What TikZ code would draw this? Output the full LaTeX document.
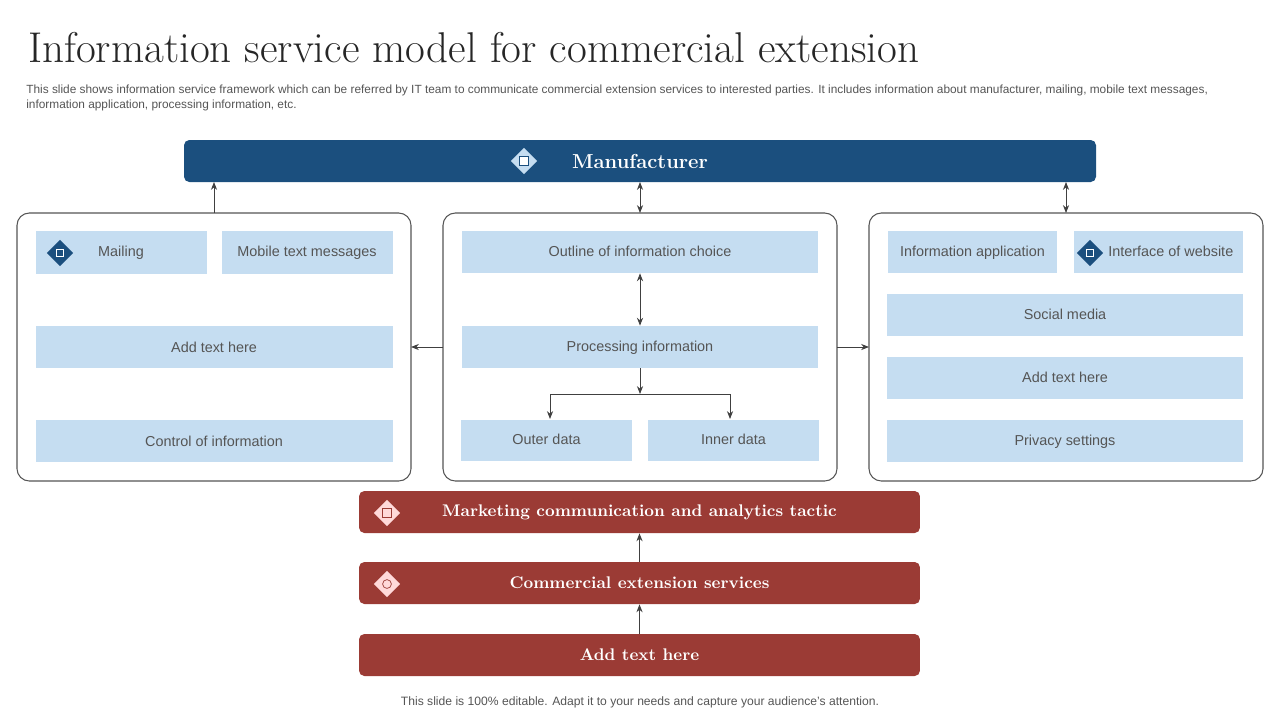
\documentclass[tikz,border=0pt]{standalone}
\usepackage{fontspec}
\setmainfont{Latin Modern Roman}
\newfontfamily\sans{Liberation Sans}
\usetikzlibrary{shapes.geometric,arrows.meta}
\definecolor{dblue}{HTML}{1B4F7E}
\definecolor{lblue}{HTML}{C5DDF1}
\definecolor{dred}{HTML}{9B3B35}
\definecolor{tgray}{HTML}{555555}
\definecolor{bgray}{HTML}{555555}
\begin{document}
\begin{tikzpicture}[x=0.02cm,y=-0.02cm,
 lbf/.style={font=\sans\fontsize{8.2}{10}\selectfont,text=tgray},
 lb/.style={fill=lblue,draw=none,lbf,text depth=0.2ex},
 bar/.style={rounded corners=3pt,draw=none,text=white,font=\bfseries\fontsize{9.6}{12}\selectfont},
 panel/.style={draw=bgray,rounded corners=7pt,line width=0.6pt},
 ar/.style={-{Stealth[length=4.5pt,width=3.5pt]},draw=black!75,line width=0.5pt},
 dar/.style={{Stealth[length=4.5pt,width=3.5pt]}-{Stealth[length=4.5pt,width=3.5pt]},draw=black!75,line width=0.5pt},
 ico/.style={diamond,minimum size=15pt,inner sep=0pt}]
\useasboundingbox (0,0) rectangle (1280,720);
\node[anchor=west,font=\fontsize{24.5}{27}\selectfont,text=black!85] (title) at (22,48) {Information service model for commercial extension};
\node[anchor=north west,align=left,font=\sans\fontsize{6.75}{8.1}\selectfont,text=tgray,inner sep=0pt] (sub) at (26,85) {This slide shows information service framework which can be referred by IT team to  communicate commercial extension services to interested parties. It includes information about manufacturer, mailing, mobile text messages,\\ information application, processing information, etc.};
% manufacturer
\path[bar,fill=dblue] (184,140) rectangle (1096,182);
\node[text=white,font=\bfseries\fontsize{11.5}{14}\selectfont] (man) at (640,161) {Manufacturer};
\node[ico,fill=lblue] (i1) at (524,161) {};
\node[draw=dblue,fill=white,minimum size=5pt,inner sep=0pt] at (524,161) {};
% panels
\draw[panel] (17,213) rectangle (411,481); \coordinate (pl) at (411,347); \coordinate (plt) at (214,213);
\draw[panel] (443,213) rectangle (837,481);
\draw[panel] (869,213) rectangle (1263,481);
\coordinate (ml) at (443,347); \coordinate (mr) at (837,347); \coordinate (pr) at (869,347);
\coordinate (mt) at (640,213); \coordinate (prt) at (1066,213);
\coordinate (mb1) at (214,182); \coordinate (mb2) at (640,182); \coordinate (mb3) at (1066,182);
\draw[ar] (plt) -- (mb1);
\draw[dar] (mt) -- (mb2);
\draw[dar] (prt) -- (mb3);
\draw[ar] (ml) -- (pl);
\draw[ar] (mr) -- (pr);
% left boxes
\path[fill=lblue] (36,231) rectangle (207,274); \node[lbf] (mail) at (121,253) {Mailing};
\node[ico,fill=dblue] at (60,253) {}; \node[draw=white,minimum size=4pt,inner sep=0pt] at (60,253) {};
\path[fill=lblue] (222,231) rectangle (393,274); \node[lbf] (mob) at (307,253) {Mobile text messages};
\path[fill=lblue] (36,326) rectangle (393,368); \node[lbf] (add1) at (214,347) {Add text here};
\path[fill=lblue] (36,420) rectangle (393,462); \node[lbf] (ctrl) at (214,441) {Control of information};
% middle
\node[lb,minimum width=7.14cm,minimum height=0.84cm] (out) at (640,252) {Outline of information choice};
\node[lb,minimum width=7.14cm,minimum height=0.84cm] (proc) at (640,347) {Processing information};
\node[lb,minimum width=3.42cm,minimum height=0.82cm] (od) at (546.5,440.5) {Outer data};
\node[lb,minimum width=3.42cm,minimum height=0.82cm] (id) at (733.5,440.5) {Inner data};
\draw[dar] (out) -- (proc);
\coordinate (j) at (640,394);
\draw[ar] (proc) -- (j);
\draw[ar] (j) -- (550,394) -- (550,419);
\draw[ar] (j) -- (730,394) -- (730,419);
% right
\node[lb,minimum width=3.38cm,minimum height=0.84cm] (ia) at (972.5,252) {Information application};
\node[lb,minimum width=3.38cm,minimum height=0.84cm] (iw) at (1158.5,252) {\hspace{14pt}Interface of website};
\node[ico,fill=dblue] at (1090,253) {}; \node[draw=white,minimum size=4pt,inner sep=0pt] at (1090,253) {};
\node[lb,minimum width=7.12cm,minimum height=0.84cm] (sm) at (1065,315) {Social media};
\node[lb,minimum width=7.12cm,minimum height=0.84cm] (ad2) at (1065,378) {Add text here};
\node[lb,minimum width=7.12cm,minimum height=0.84cm] (ps) at (1065,441) {Privacy settings};
% red bars
\node[bar,fill=dred,minimum width=11.22cm,minimum height=0.84cm] (mk) at (639.5,512) {Marketing communication and analytics tactic};
\node[bar,fill=dred,minimum width=11.22cm,minimum height=0.84cm] (ce) at (639.5,583) {Commercial extension services};
\node[bar,fill=dred,minimum width=11.22cm,minimum height=0.84cm] (at) at (639.5,655) {Add text here};
\node[ico,fill=red!15!white] at (387,513) {}; \node[draw=dred,minimum size=5pt,inner sep=0pt] at (387,513) {};
\node[ico,fill=red!15!white] at (387,584) {}; \node[draw=dred,circle,minimum size=5pt,inner sep=0pt] at (387,584) {};
\draw[ar] (ce) -- (mk);
\draw[ar] (at) -- (ce);
\node[font=\sans\fontsize{6.9}{9}\selectfont,text=tgray] (foot) at (640,702) {This slide is 100\% editable. Adapt it to your needs and capture your audience’s attention.};
\end{tikzpicture}
\end{document}
